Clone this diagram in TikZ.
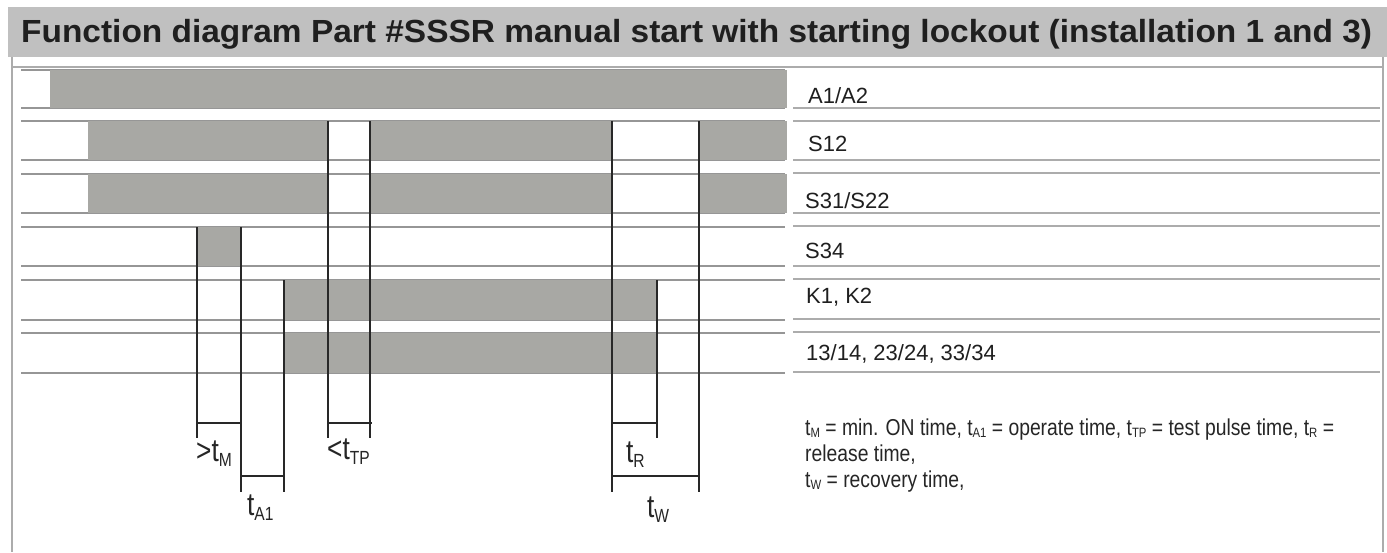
\documentclass[tikz,border=0pt]{standalone}
\usepackage{fontspec}
\setmainfont{Liberation Sans}
\newfontfamily\narrowfont[FakeStretch=0.82]{Liberation Sans}
\newfontfamily\legendfont[FakeStretch=0.84]{Liberation Sans}
\newfontfamily\titlefont[FakeStretch=1.045]{Liberation Sans}
\newcommand\tsubL[1]{\raisebox{-5pt}{\fontsize{19}{19}\selectfont #1}}
\newcommand\tsubS[1]{\raisebox{-2pt}{\fontsize{13.5}{14}\selectfont #1}}
\definecolor{barfill}{RGB}{168,168,164}
\definecolor{titlebg}{RGB}{192,192,192}
\definecolor{rulecol}{RGB}{172,172,172}
\definecolor{thincol}{RGB}{150,150,150}
\definecolor{ink}{RGB}{40,40,40}
\tikzset{
  thinline/.style={draw=thincol,line width=1.3pt},
  ruleline/.style={draw=rulecol,line width=2.6pt},
  border/.style={draw=rulecol,line width=2.4pt},
  timeline/.style={draw=ink,line width=1.6pt},
  bar/.style={fill=barfill},
  sig/.style={anchor=base west,inner sep=0pt,font=\fontsize{22}{26}\selectfont,text=black!88},
  tlab/.style={anchor=base west,inner sep=0pt,font=\narrowfont\fontsize{32}{32}\selectfont,text=black!85},
  legend/.style={anchor=base west,inner sep=0pt,font=\legendfont\fontsize{23}{26}\selectfont,text=black!85}
}
\begin{document}
\begin{tikzpicture}[x=1pt,y=-1pt]
\useasboundingbox (0,0) rectangle (1387,552);
\fill[white] (0,0) rectangle (1387,552);
% title bar
\fill[titlebg] (8,7) rectangle (1387,57);
\node[anchor=base west,inner sep=0pt,font=\titlefont\bfseries\fontsize{32}{36}\selectfont,text=black!88] (title) at (21,42)
  {Function diagram Part \#SSSR manual start with starting lockout (installation 1 and 3)};
% frame
\draw[border] (12,57) -- (12,552);
\draw[border] (1383,57) -- (1383,552);
\draw[border] (12,67) -- (1383,67);
% left thin row lines
\foreach \y in {70,108,121,160,174,213,227,266,280,320,333,373}
  \draw[thinline] (21,\y) -- (785,\y);
% right label lines
\foreach \y in {108,121,160,173,213,226,266,279,319,332,372}
  \draw[ruleline] (793,\y) -- (1380,\y);
% bars
\fill[bar] (50,70) rectangle (787,108);
\fill[bar] (88,121) rectangle (328,160);
\fill[bar] (370,121) rectangle (612,160);
\fill[bar] (699,121) rectangle (787,160);
\fill[bar] (88,174) rectangle (328,213);
\fill[bar] (370,174) rectangle (612,213);
\fill[bar] (699,174) rectangle (787,213);
\fill[bar] (197,227) rectangle (241,266);
\fill[bar] (284,280) rectangle (657,320);
\fill[bar] (284,333) rectangle (657,373);
% timing lines
\coordinate (a1) at (197,227); \coordinate (a2) at (197,438);
\coordinate (b1) at (241,227); \coordinate (b2) at (241,492);
\coordinate (c1) at (284,280); \coordinate (c2) at (284,492);
\coordinate (d1) at (328,121); \coordinate (d2) at (328,438);
\coordinate (e1) at (370,121); \coordinate (e2) at (370,438);
\coordinate (f1) at (612,121); \coordinate (f2) at (612,492);
\coordinate (g1) at (657,280); \coordinate (g2) at (657,438);
\coordinate (h1) at (699,121); \coordinate (h2) at (699,492);
\foreach \p in {a,b,c,d,e,f,g,h} \draw[timeline] (\p1) -- (\p2);
% brackets
\draw[timeline] (197,423) -- (241,423);
\draw[timeline] (241,476) -- (284,476);
\draw[timeline] (328,423) -- (372,423);
\draw[timeline] (612,423) -- (657,423);
\draw[timeline] (612,476) -- (699,476);
% time labels
\node[tlab] (tm) at (196,461) {>t\tsubL{M}};
\node[tlab] (ta) at (247,515) {t\tsubL{A1}};
\node[tlab] (ttp) at (327,459) {<t\tsubL{TP}};
\node[tlab] (tr) at (626,462) {t\tsubL{R}};
\node[tlab] (tw) at (647,517) {t\tsubL{W}};
% signal names
\node[sig] (s1) at (808,103) {A1/A2};
\node[sig] (s2) at (808,151) {S12};
\node[sig] (s3) at (805,208) {S31/S22};
\node[sig] (s4) at (805,258) {S34};
\node[sig] (s5) at (806,303) {K1, K2};
\node[sig] (s6) at (806,360) {13/14, 23/24, 33/34};
% legend
\node[legend] (l1) at (805,435) {t\tsubS{M} = min. ON time, t\tsubS{A1} = operate time, t\tsubS{TP} = test pulse time, t\tsubS{R} =};
\node[legend] (l2) at (805,461) {release time,};
\node[legend] (l3) at (805,487) {t\tsubS{W} = recovery time,};
\end{tikzpicture}
\end{document}
